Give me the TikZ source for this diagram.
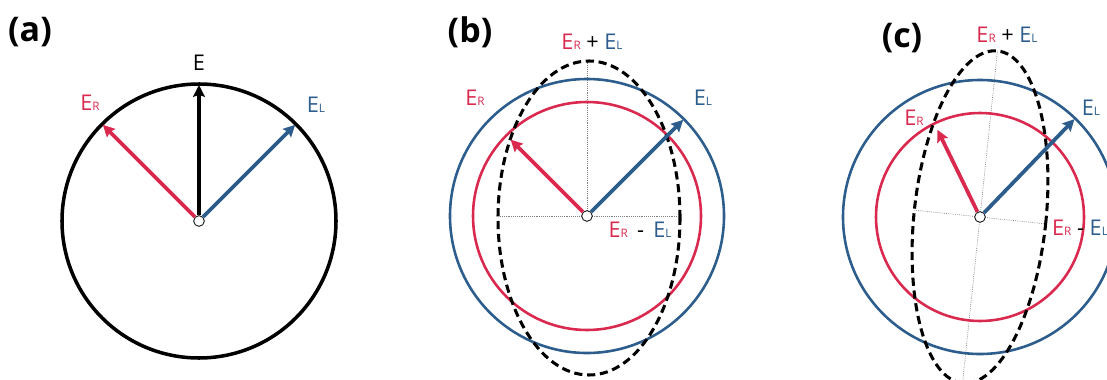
\documentclass[tikz,border=0pt]{standalone}
\usepackage{fontspec}
\setmainfont{Open Sans}
\usepackage{xcolor}
\usepackage{tikz}
\usetikzlibrary{arrows.meta,calc}
\definecolor{rcpred}{RGB}{218,41,78}
\definecolor{lcpblue}{RGB}{44,93,140}
\newcommand{\Esub}[1]{E{\fontsize{10}{10}\selectfont #1}}

\begin{document}
\begin{tikzpicture}[
  x=0.03cm, y=0.03cm,
  every node/.style={font=\fontsize{18.5}{20}\selectfont, inner sep=0pt},
  panellbl/.style={font=\fontsize{29}{32}\selectfont\bfseries},
  vecarrow/.style={-{Stealth[length=10pt,width=10pt,inset=1.5pt]}, line width=3.2pt},
  ringline/.style={line width=2.2pt},
  sumellipse/.style={line width=2.6pt, dash pattern=on 7pt off 4pt},
  axisline/.style={gray, line width=0.6pt, densely dotted},
  origin/.style={circle, draw, fill=white, line width=0.7pt, minimum size=0.32cm}
]
\useasboundingbox (0,0) rectangle (1107,379);

% (a)
\node[panellbl] (lbla) at (30,347) {(a)};
\coordinate (oa) at (199,158);
\draw[line width=3pt] (oa) circle (137);
\node[origin] (ca) at (oa) {};
\coordinate (ea) at ($(oa)+(90:136)$);
\coordinate (era) at ($(oa)+(135:136)$);
\coordinate (ela) at ($(oa)+(45:136)$);
\draw[vecarrow] (ca) -- (ea);
\draw[vecarrow, rcpred] (ca) -- (era);
\draw[vecarrow, lcpblue] (ca) -- (ela);
\node (txtea) at (199,316) {E};
\node[rcpred] (txtera) at (90,276) {\Esub{R}};
\node[lcpblue] (txtela) at (316,274) {\Esub{L}};

% (b)
\node[panellbl] (lblb) at (470,347) {(b)};
\coordinate (ob) at (587,163);
\draw[axisline] ($(ob)+(-87,0)$) -- ($(ob)+(91,0)$);
\draw[axisline] (ob) -- ($(ob)+(0,155)$);
\draw[ringline, lcpblue] (ob) circle (137);
\draw[ringline, rcpred] (ob) circle (114);
\draw[sumellipse] ($(ob)+(2,-2)$) ellipse (91 and 157);
\node[origin] (cb) at (ob) {};
\coordinate (erb) at ($(ob)+(135:108)$);
\coordinate (elb) at ($(ob)+(45:136)$);
\draw[vecarrow, rcpred] (cb) -- (erb);
\draw[vecarrow, lcpblue] (cb) -- (elb);
\node (sumb) at (592,337) {\textcolor{rcpred}{\Esub{R}} + \textcolor{lcpblue}{\Esub{L}}};
\node[rcpred] (txterb) at (475,281) {\Esub{R}};
\node[lcpblue] (txtelb) at (703,281) {\Esub{L}};
\node (difb) at (640,149) {\textcolor{rcpred}{\Esub{R}}\,\ -\ \,\textcolor{lcpblue}{\Esub{L}}};

% (c)
\node[panellbl] (lblc) at (902,341) {(c)};
\coordinate (oc) at (980,162);
\draw[axisline, rotate around={-6:(oc)}] ($(oc)+(-66,0)$) -- ($(oc)+(66,0)$);
\draw[axisline, rotate around={-6:(oc)}] ($(oc)+(0,-167)$) -- ($(oc)+(0,167)$);
\draw[ringline, lcpblue] (oc) circle (137);
\draw[ringline, rcpred] (oc) circle (104);
\draw[sumellipse, rotate around={-6:(oc)}] (oc) ellipse (66 and 167);
\node[origin] (cc) at (oc) {};
\coordinate (erc) at ($(oc)+(116:97)$);
\coordinate (elc) at ($(oc)+(46:136)$);
\draw[vecarrow, rcpred] (cc) -- (erc);
\draw[vecarrow, lcpblue] (cc) -- (elc);
\node (sumc) at (1007,344) {\textcolor{rcpred}{\Esub{R}} + \textcolor{lcpblue}{\Esub{L}}};
\node[rcpred] (txterc) at (914,261) {\Esub{R}};
\node[lcpblue] (txtelc) at (1091,271) {\Esub{L}};
\node (difc) at (1080,151) {\textcolor{rcpred}{\Esub{R}} - \textcolor{lcpblue}{\Esub{L}}};
\end{tikzpicture}
\end{document}
